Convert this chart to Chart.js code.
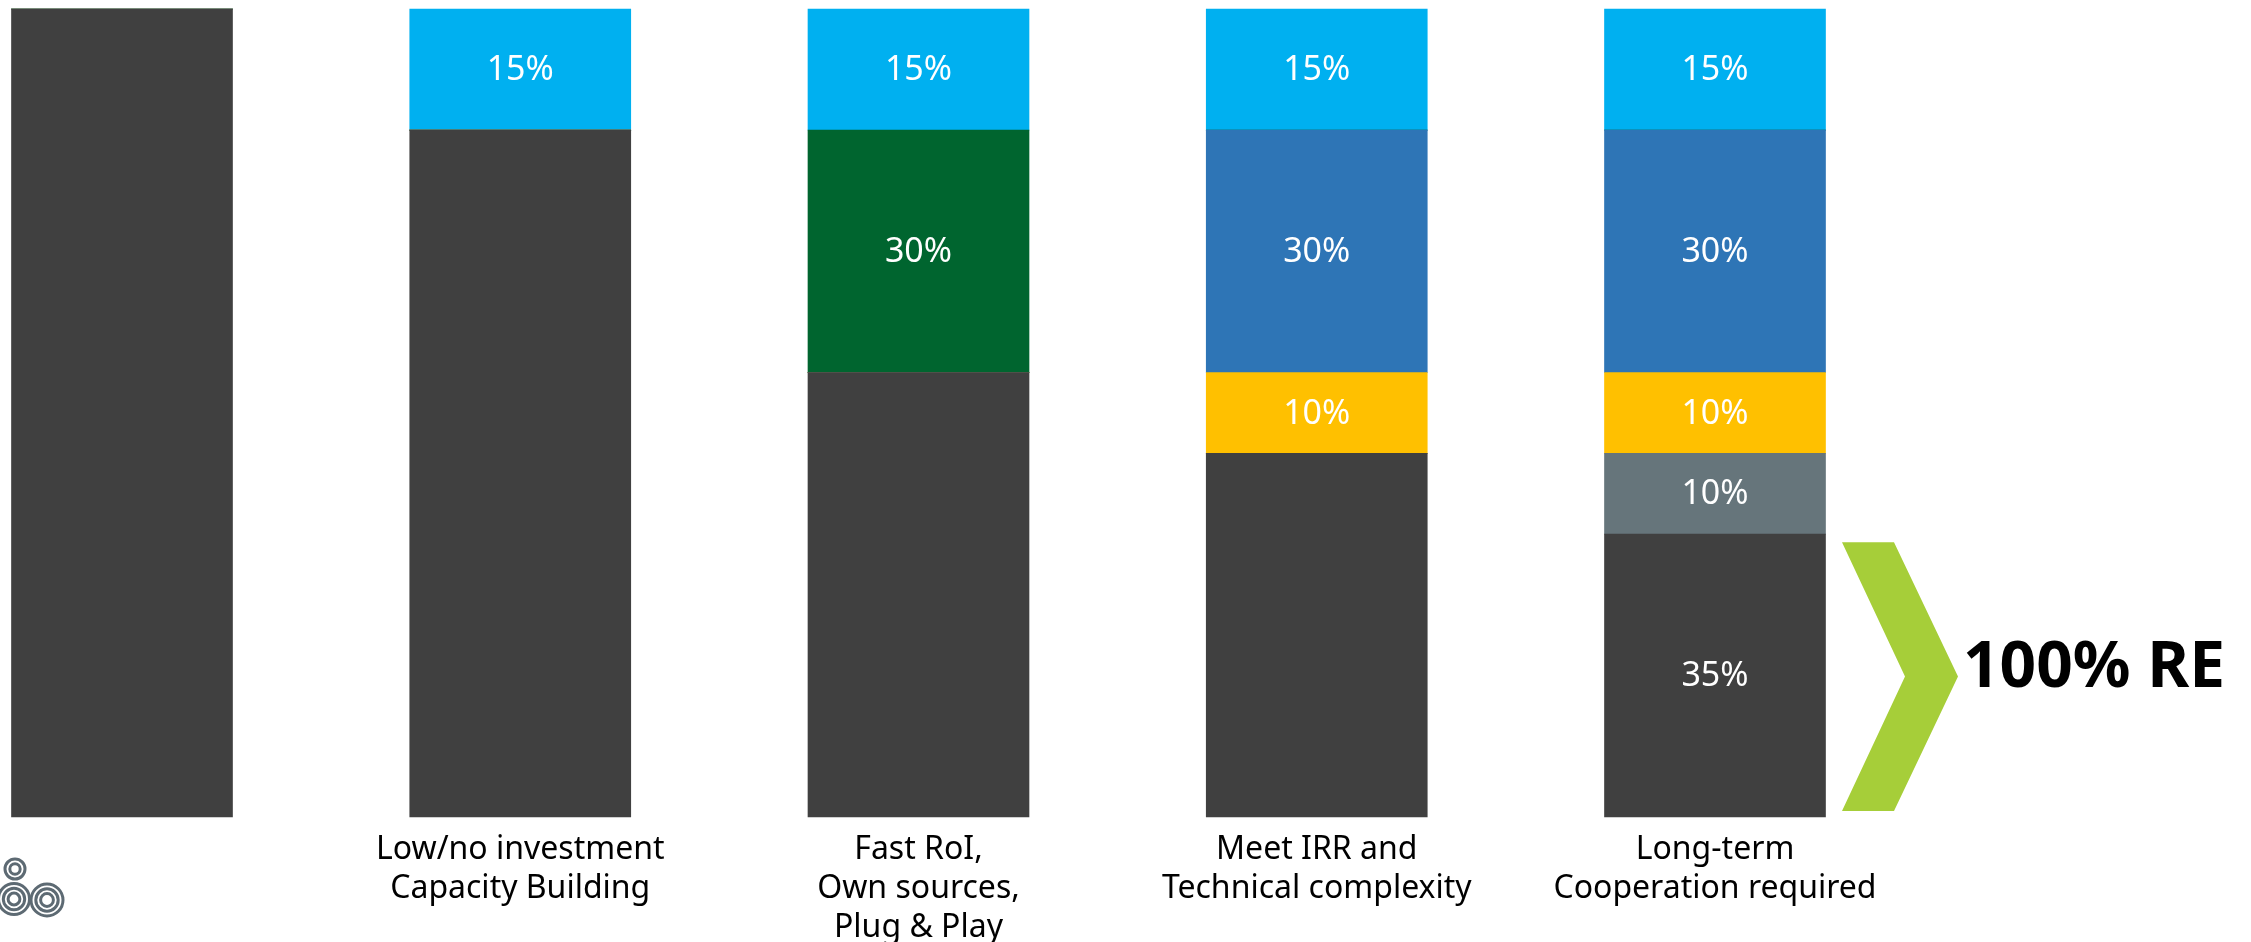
<!DOCTYPE html>
<html>
<head>
<meta charset="utf-8">
<script src="https://cdn.jsdelivr.net/npm/chart.js@4.4.1/dist/chart.umd.min.js"></script>
<style>
    html, body { margin: 0; padding: 0; background: #ffffff; }
    #wrap { width: 2251px; height: 942px; position: relative; }
</style>
</head>
<body>
<div id="wrap"><canvas id="myChart"></canvas></div>
<script>
// categories (x axis), one entry per stacked bar
var categories = [
    '',
    ['Low/no investment', 'Capacity Building'],
    ['Fast RoI,', 'Own sources,', 'Plug & Play'],
    ['Meet IRR and', 'Technical complexity'],
    ['Long-term', 'Cooperation required']
];

// series values, in %, bottom of the stack first
var baseShare = [100, 85, 55, 45, 35];
var grayShare = [0, 0, 0, 0, 10];
var yellowShare = [0, 0, 0, 10, 10];
var midBlueShare = [0, 0, 0, 30, 30];
var greenShare = [0, 0, 30, 0, 0];
var topBlueShare = [0, 15, 15, 15, 15];

// the dark base segment is only labelled on the last bar
var baseLabelShown = [false, false, false, false, true];

var sideText = '100% RE';

var font = '"Noto Sans", "Open Sans", sans-serif';

// writes the % value in the middle of each segment
var segmentLabels = {
    id: 'segmentLabels',
    afterDatasetsDraw: function (chart) {
        var c = chart.ctx;
        c.save();
        c.fillStyle = '#ffffff';
        c.font = '34px ' + font;
        c.textAlign = 'center';
        c.textBaseline = 'middle';
        chart.data.datasets.forEach(function (ds, di) {
            var meta = chart.getDatasetMeta(di);
            meta.data.forEach(function (bar, i) {
                var v = ds.data[i];
                if (!v) return;
                if (ds.showLabel && !ds.showLabel[i]) return;
                var p = bar.getProps(['x', 'y', 'base'], true);
                c.fillText(v + '%', p.x, (p.y + p.base) / 2 + 1);
            });
        });
        c.restore();
    }
};

// green chevron, "100% RE" and the small logo
var sideMarks = {
    id: 'sideMarks',
    afterDraw: function (chart) {
        var c = chart.ctx;
        var y = chart.scales.y;
        var r = chart.chartArea.right;
        var top = y.getPixelForValue(34);
        var bot = y.getPixelForValue(0.75);
        var mid = (top + bot) / 2;

        c.save();
        c.fillStyle = '#a6ce39';
        c.beginPath();
        c.moveTo(r + 127, top);
        c.lineTo(r + 179, top);
        c.lineTo(r + 243, mid);
        c.lineTo(r + 179, bot);
        c.lineTo(r + 127, bot);
        c.lineTo(r + 190, mid);
        c.closePath();
        c.fill();

        c.fillStyle = '#000000';
        c.font = 'bold 64px ' + font;
        c.textAlign = 'right';
        c.textBaseline = 'alphabetic';
        c.fillText(sideText, r + 510, mid + 10);

        // logo: rings drawn as concentric strokes
        c.strokeStyle = '#5d6a73';
        c.lineWidth = 3;
        var rings = [[15, 869, 11.5], [14, 899, 17], [47, 900, 17.5]];
        rings.forEach(function (ring) {
            for (var k = ring[2] - 1.5; k > 2; k -= 4.8) {
                c.beginPath();
                c.arc(ring[0], ring[1], k, 0, Math.PI * 2);
                c.stroke();
            }
        });
        c.restore();
    }
};

var ctx = document.getElementById('myChart');

var myChart = new Chart(ctx, {
    type: 'bar',
    data: {
        labels: categories,
        datasets: [
            { label: 'base', data: baseShare, backgroundColor: '#404040', showLabel: baseLabelShown },
            { label: 'gray', data: grayShare, backgroundColor: '#66757b' },
            { label: 'yellow', data: yellowShare, backgroundColor: '#ffc000' },
            { label: 'mid blue', data: midBlueShare, backgroundColor: '#2e75b6' },
            { label: 'green', data: greenShare, backgroundColor: '#00652f' },
            { label: 'top blue', data: topBlueShare, backgroundColor: '#00b0f0' }
        ]
    },
    options: {
        responsive: true,
        maintainAspectRatio: false,
        animation: false,
        datasets: {
            bar: { barThickness: 221, clip: false, borderWidth: 0 }
        },
        layout: {
            padding: { left: 122, right: 536, top: 9, bottom: 0 }
        },
        plugins: {
            legend: { display: false },
            tooltip: { enabled: false }
        },
        scales: {
            x: {
                stacked: true,
                offset: false,
                grid: { display: false, drawTicks: false },
                border: { display: false },
                ticks: {
                    color: '#000000',
                    padding: 13,
                    maxRotation: 0,
                    autoSkip: false,
                    font: { family: font, size: 32, lineHeight: 1.22 }
                },
                afterFit: function (axis) {
                    axis.height = 125;
                }
            },
            y: {
                stacked: true,
                min: 0,
                max: 100,
                display: false
            }
        }
    },
    plugins: [segmentLabels, sideMarks]
});
</script>
</body>
</html>
